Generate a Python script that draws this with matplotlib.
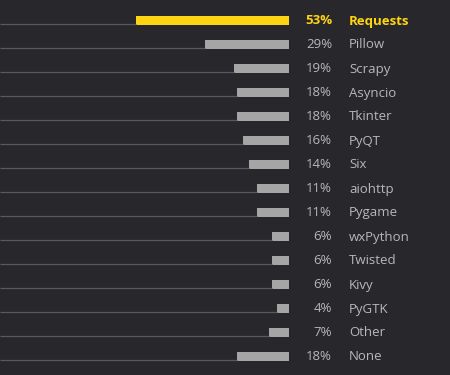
import matplotlib
matplotlib.use("Agg")
import matplotlib.pyplot as plt

categories = ["Requests", "Pillow", "Scrapy", "Asyncio", "Tkinter", "PyQT", "Six",
              "aiohttp", "Pygame", "wxPython", "Twisted", "Kivy", "PyGTK", "Other", "None"]
values = [53, 29, 19, 18, 18, 16, 14, 11, 11, 6, 6, 6, 4, 7, 18]
labels = [f"{v}%" for v in values]

BG = "#28272c"
YELLOW = "#ffd412"
GREY_BAR = "#a5a5a5"
TEXT = "#b8b8b8"
LINE = "#5a5a5e"

W, H = 450, 375
fig = plt.figure(figsize=(W / 100, H / 100), dpi=100, facecolor=BG)
ax = fig.add_axes([0, 0, 289 / W, 1])
ax.set_facecolor(BG)
ax.set_xlim(100.1, 0)
row_px = 24
top_px = 20
ax.set_ylim((H - top_px) / row_px, -top_px / row_px)
ax.axis("off")

bar_h = 9 / row_px
ys = list(range(len(categories)))
colors = [YELLOW if i == 0 else GREY_BAR for i in ys]
ax.barh(ys, values, height=bar_h, color=colors, left=0)
for y, v in zip(ys, values):
    ax.plot([100.1, v], [y + bar_h / 2 - 0.03, y + bar_h / 2 - 0.03], color=LINE, lw=0.9,
            solid_capstyle="butt")

for y, lab, cat in zip(ys, labels, categories):
    c = YELLOW if y == 0 else TEXT
    w = "bold" if y == 0 else "normal"
    yf = 1 - (top_px + 1 + row_px * y) / H
    fig.text(332 / W, yf, lab, ha="right", va="center", color=c, fontsize=9.5,
             fontweight=w, family="Open Sans")
    fig.text(349 / W, yf, cat, ha="left", va="center", color=c, fontsize=9.5,
             fontweight=w, family="Open Sans")

fig.savefig("out.png", dpi=100, facecolor=BG)
